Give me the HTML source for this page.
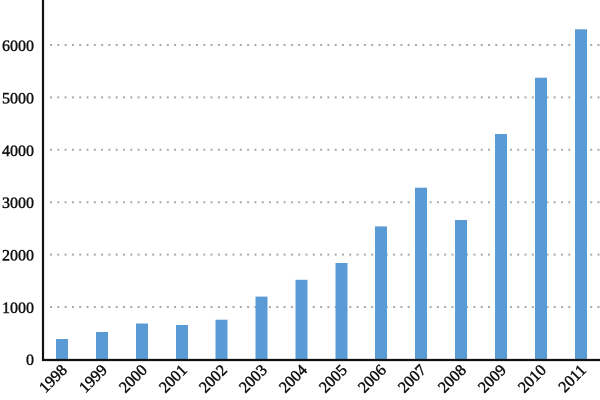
<!DOCTYPE html>
<html><head><style>body{margin:0;background:#fff}svg{display:block}text{font-family:"Liberation Serif","DejaVu Serif",serif;font-size:16px}</style></head><body>
<svg width="600" height="400" xmlns="http://www.w3.org/2000/svg" fill="#111">
<g stroke="#aaa" stroke-width="2" stroke-dasharray="2 5.3" stroke-linecap="butt">
<line x1="50" y1="45" x2="600" y2="45"/><line x1="50" y1="97.4" x2="600" y2="97.4"/><line x1="50" y1="149.8" x2="600" y2="149.8"/><line x1="50" y1="202.2" x2="600" y2="202.2"/><line x1="50" y1="254.6" x2="600" y2="254.6"/><line x1="50" y1="307" x2="600" y2="307"/>
</g>
<g fill="#5b9bd5">
<rect x="56" y="339" width="12" height="21"/>
<rect x="96" y="332" width="12" height="28"/>
<rect x="136" y="323.5" width="12" height="36.5"/>
<rect x="176" y="325" width="12" height="35"/>
<rect x="215.5" y="319.7" width="12" height="40.3"/>
<rect x="255.5" y="296.6" width="12" height="63.4"/>
<rect x="295.5" y="279.8" width="12" height="80.2"/>
<rect x="335.5" y="263" width="12" height="97"/>
<rect x="375" y="226.4" width="12" height="133.6"/>
<rect x="415" y="187.7" width="12" height="172.3"/>
<rect x="455" y="220" width="12" height="140"/>
<rect x="495" y="134" width="12" height="226"/>
<rect x="535" y="77.7" width="12" height="282.3"/>
<rect x="575" y="29.3" width="12" height="330.7"/>
</g>
<line x1="43" y1="0" x2="43" y2="361" stroke="#111" stroke-width="2.2"/>
<line x1="42" y1="360" x2="600" y2="360" stroke="#111" stroke-width="2.2"/>
<g stroke="#111" stroke-width="0.5">
<g text-anchor="end">
<text x="34" y="51">6000</text><text x="34" y="103.4">5000</text><text x="34" y="155.8">4000</text><text x="34" y="208.2">3000</text><text x="34" y="260.6">2000</text><text x="34" y="313">1000</text><text x="34" y="365">0</text>
</g>
<g text-anchor="end">
<text transform="translate(68,371) rotate(-45)">1998</text>
<text transform="translate(108,371) rotate(-45)">1999</text>
<text transform="translate(148,371) rotate(-45)">2000</text>
<text transform="translate(188,371) rotate(-45)">2001</text>
<text transform="translate(228,371) rotate(-45)">2002</text>
<text transform="translate(268,371) rotate(-45)">2003</text>
<text transform="translate(308,371) rotate(-45)">2004</text>
<text transform="translate(348,371) rotate(-45)">2005</text>
<text transform="translate(387,371) rotate(-45)">2006</text>
<text transform="translate(427,371) rotate(-45)">2007</text>
<text transform="translate(467,371) rotate(-45)">2008</text>
<text transform="translate(507,371) rotate(-45)">2009</text>
<text transform="translate(547,371) rotate(-45)">2010</text>
<text transform="translate(587,371) rotate(-45)">2011</text>
</g>
</g>
</svg>
</body></html>
